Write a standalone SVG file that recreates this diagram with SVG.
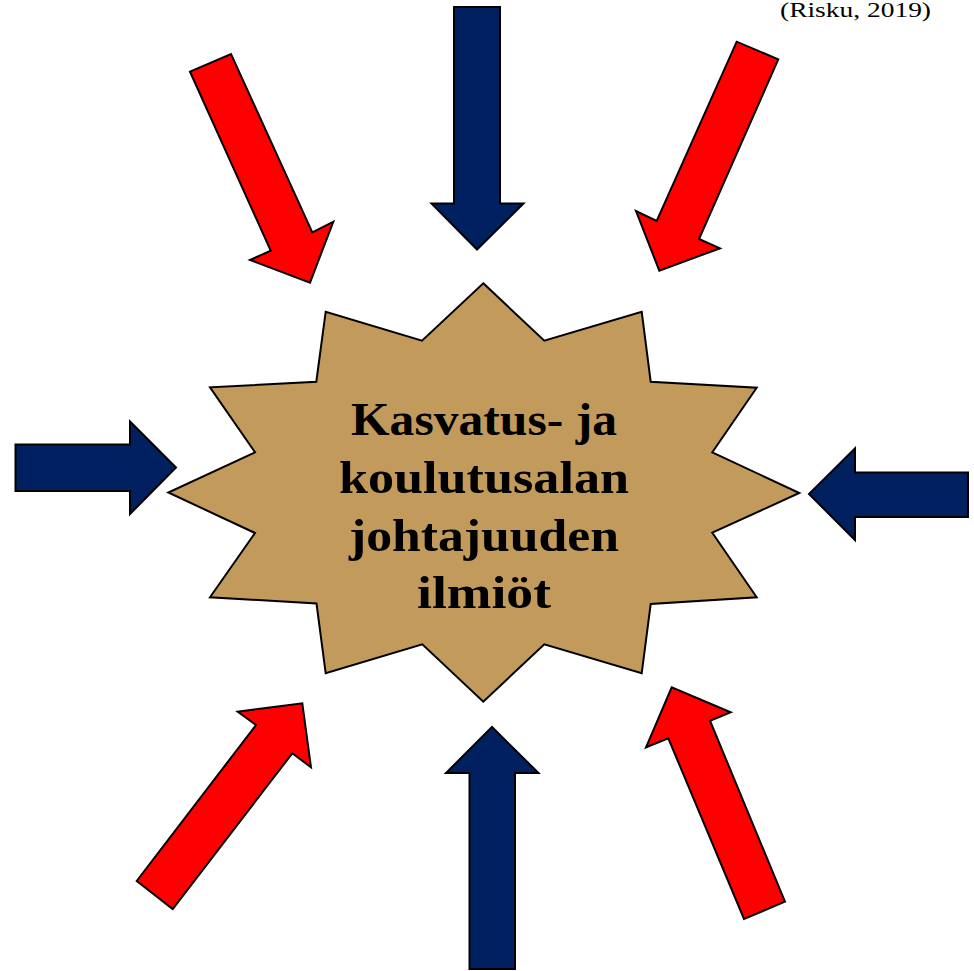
<svg xmlns="http://www.w3.org/2000/svg" width="974" height="971" viewBox="0 0 974 971">
  <style>
    .blue { fill: #002060; stroke: #000; stroke-width: 2; stroke-linejoin: miter; }
    .red { fill: #FF0000; stroke: #000; stroke-width: 2; stroke-linejoin: miter; }
    .star { fill: #C19A5C; stroke: #000; stroke-width: 2; stroke-linejoin: miter; }
    .title { font-family: "Liberation Serif", "DejaVu Serif", serif; font-weight: bold; font-size: 46px; fill: #000; text-anchor: middle; }
    .cite { font-family: "Liberation Serif", "DejaVu Serif", serif; font-size: 21px; fill: #000; }
  </style>
  <rect width="974" height="971" fill="#fff"/>
  <text class="cite" x="780" y="17" textLength="151" lengthAdjust="spacingAndGlyphs">(Risku, 2019)</text>

  <g id="connectors">
    <polygon id="arrow-top" class="blue" points="454,7 500,7 500,203.5 523.5,203.5 477,249.5 431.5,203.5 454,203.5"/>
    <polygon id="arrow-left" class="blue" points="15.5,444.5 130,444.5 130,421.5 176,467.5 130,514 130,491 15.5,491"/>
    <polygon id="arrow-right" class="blue" points="968,472.5 855,472.5 855,448.5 809,494 855,540 855,517 968,517"/>
    <polygon id="arrow-bottom" class="blue" points="469.5,969 515,969 515,773 538.5,773 492,727 446,773 469.5,773"/>
    <polygon id="arrow-tl" class="red" points="190,71.7 231,54 312.3,232.3 333.3,221.7 310,282.7 250,260 270.7,250.7"/>
    <polygon id="arrow-tr" class="red" points="778.3,59.3 736.7,41.7 656.7,221 636,211 659.3,270.7 720,248.3 699,239"/>
    <polygon id="arrow-bl" class="red" points="136.7,881 172.7,909 292.3,753.3 311,767.3 302.3,703.3 237.7,711.7 256,725"/>
    <polygon id="arrow-br" class="red" points="785,901.7 744,919 668.3,738.3 646,747.3 671.7,687.3 730.7,712.3 710,720.7"/>
  </g>

  <g id="star-node">
    <polygon class="star" points="483.3,283.3 544.3,340.7 641.7,311.7 650.7,381.7 756.7,387.7 712.3,452.3 799.3,493 712.3,532.7 756.7,597.3 650.7,604 641.7,673.3 544.3,644.3 483.3,701.7 422.3,644.3 325.7,673.3 316.5,603.5 210,597.3 255,533 168.3,492.5 255,452.3 210,387.3 316.3,381.7 325.7,311.7 422,340.7"/>
    <text class="title" x="484" y="435" textLength="266" lengthAdjust="spacingAndGlyphs">Kasvatus- ja</text>
    <text class="title" x="484" y="492.5" textLength="290" lengthAdjust="spacingAndGlyphs">koulutusalan</text>
    <text class="title" x="484" y="551" textLength="270" lengthAdjust="spacingAndGlyphs">johtajuuden</text>
    <text class="title" x="484" y="608" textLength="134" lengthAdjust="spacingAndGlyphs">ilmiöt</text>
  </g>
</svg>
